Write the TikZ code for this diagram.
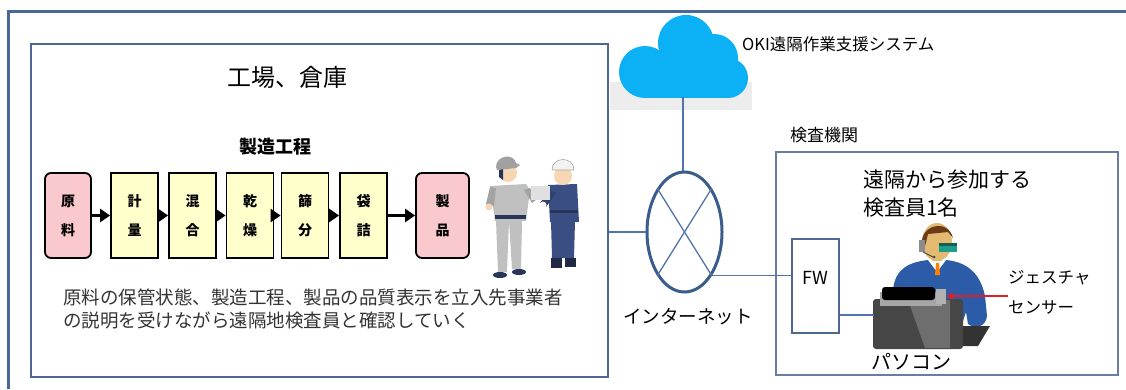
\documentclass[tikz,border=0pt]{standalone}
\usepackage{fontspec}
\setmainfont{Noto Sans CJK JP}
\usetikzlibrary{arrows.meta,shapes.geometric}

\definecolor{framecol}{RGB}{72,104,150}
\definecolor{boxcol}{RGB}{78,102,146}
\definecolor{linkcol}{RGB}{82,116,170}
\definecolor{netcol}{RGB}{58,92,138}
\definecolor{cloudcol}{RGB}{12,176,245}
\definecolor{stagefill}{RGB}{255,255,204}
\definecolor{endfill}{RGB}{249,201,206}
\definecolor{uniformgray}{RGB}{192,192,192}
\definecolor{capgray}{RGB}{160,160,160}
\definecolor{navy}{RGB}{58,78,132}
\definecolor{darknavy}{RGB}{40,52,88}
\definecolor{skin}{RGB}{247,214,180}
\definecolor{tan}{RGB}{228,186,112}
\definecolor{hair}{RGB}{106,58,27}
\definecolor{suitblue}{RGB}{44,92,168}
\definecolor{visor}{RGB}{30,158,138}
\definecolor{pcdark}{RGB}{70,70,70}
\definecolor{pclight}{RGB}{110,110,110}
\definecolor{sensorred}{RGB}{222,30,40}

\tikzset{
  frameline/.style={draw=framecol, line width=3pt},
  areabox/.style={draw=boxcol, line width=1.6pt, inner sep=0pt},
  stepbox/.style={draw=black, line width=1.8pt, minimum height=85pt, inner sep=0pt,
    align=center, font=\bfseries\fontsize{14}{29}\selectfont},
  stagebox/.style={stepbox, fill=stagefill, minimum width=47pt},
  endbox/.style={stepbox, fill=endfill, rounded corners=6pt},
  flow/.style={line width=2.6pt, -{Triangle[length=10pt,width=13pt]}},
  link/.style={draw=linkcol, line width=1.3pt},
  plain/.style={inner sep=0pt},
}

\begin{document}
\begin{tikzpicture}[x=1pt,y=-1pt]
\useasboundingbox (0,0) rectangle (1126,389);

% outer frame
\draw[frameline] (8,389) -- (8,11) -- (1126,11);

% faint band behind the cloud
\fill[black!7] (610,82) rectangle (752,110);

% factory / warehouse area
\node[areabox, minimum width=577pt, minimum height=333pt] (factory) at (319.5,210.5) {};
\node[plain, font=\fontsize{24}{28}\selectfont] (sitetitle) at (287,77) {工場、倉庫};
\node[plain, font=\bfseries\fontsize{18}{22}\selectfont] (flowtitle) at (275,147) {製造工程};

% manufacturing process
\node[endbox, minimum width=46pt] (raw) at (68,215.5) {原\\料};
\node[stagebox] (weigh) at (134.5,215.5) {計\\量};
\node[stagebox] (mix) at (192.5,215.5) {混\\合};
\node[stagebox] (dry) at (250,215.5) {乾\\燥};
\node[stagebox] (sieve) at (305,215.5) {篩\\分};
\node[stagebox] (bag) at (363.5,215.5) {袋\\詰};
\node[endbox, minimum width=53pt] (product) at (442.5,215.5) {製\\品};
\draw[flow] (raw) -- (weigh);
\draw[flow] (weigh) -- (mix);
\draw[flow] (mix) -- (dry);
\draw[flow] (dry) -- (sieve);
\draw[flow] (sieve) -- (bag);
\draw[flow] (bag) -- (product);

\node[plain, anchor=west, align=left, font=\fontsize{18.5}{23}\selectfont, text=black!80] (desc) at (63,308.5)
  {原料の保管状態、製造工程、製品の品質表示を立入先事業者\\の説明を受けながら遠隔地検査員と確認していく};

% two workers talking
\begin{scope}
  % left worker (grey uniform)
  \fill[uniformgray] (496,221) -- (509,221) -- (507,272) -- (498,272) -- cycle;
  \fill[uniformgray] (509,221) -- (522,221) -- (521,269) -- (512,269) -- cycle;
  \fill[darknavy] (500,275) ellipse[x radius=7, y radius=3];
  \fill[darknavy] (519,272) ellipse[x radius=7, y radius=3];
  \fill[uniformgray] (490,186) -- (526,184) -- (530,190) -- (526,221) -- (495,221) -- (492,200) -- cycle;
  \fill[darknavy] (495,215) rectangle (526,219);
  \fill[uniformgray!85!black] (490,187) -- (496,188) -- (494,206) -- (486,204) -- cycle;
  \fill[skin] (489,207) circle[radius=3.5];
  \fill[uniformgray!85!black] (524,190) -- (530,188) -- (537,199) -- (532,203) -- cycle;
  \fill[skin] (508,173) circle[radius=9];
  \fill[darknavy] (499,170) -- (503,168) -- (503,180) -- (499,177) -- cycle;
  \fill[capgray] (496,167) .. controls (496,155) and (514,153) .. (516,163) -- (520,165) -- (516,168) -- (497,170) -- cycle;
  % right worker (navy uniform, white helmet)
  \fill[navy] (551,221) -- (575,221) -- (574,258) -- (552,258) -- cycle;
  \fill[darknavy!80!black] (551,258) rectangle (562,268);
  \fill[darknavy!80!black] (565,258) rectangle (576,267);
  \fill[navy] (548,185) -- (577,184) -- (579,222) -- (550,222) -- cycle;
  \fill[darknavy] (550,210) rectangle (578,213);
  \fill[navy!85!black] (550,190) -- (556,193) -- (546,207) -- (540,203) -- cycle;
  \fill[black!12] (531,186) rectangle (550,200);
  \fill[white] (543,205) circle[radius=3.5];
  \fill[skin] (563,176) circle[radius=9];
  \fill[black!5] (552,170) .. controls (552,156) and (574,156) .. (574,170) -- cycle;
  \draw[black!35, line width=0.6pt] (552,170) .. controls (552,156) and (574,156) .. (574,170) -- cycle;
\end{scope}

% cloud service
\fill[cloudcol] (645,72) circle[radius=26];
\fill[cloudcol] (686,43) circle[radius=28];
\fill[cloudcol] (714,58) circle[radius=24];
\fill[cloudcol] (728,78) circle[radius=20];
\fill[cloudcol] (645,60) rectangle (728,98);
\coordinate (cloudfoot) at (683,97);
\node[plain, anchor=west, font=\fontsize{16.5}{20}\selectfont] (service) at (742,44) {OKI遠隔作業支援システム};

% internet
\node[draw=netcol, line width=3pt, ellipse, minimum width=75pt, minimum height=120pt, inner sep=0pt] (net) at (684.5,232) {};
\draw[link] (net.58) -- (net.238);
\draw[link] (net.122) -- (net.302);
\node[plain, font=\fontsize{18.5}{22}\selectfont] (netlabel) at (688,317) {インターネット};
\draw[link] (cloudfoot) -- (cloudfoot |- net.north);
\draw[link] (factory.east |- net.west) -- (net.west);

% inspection body
\node[plain, font=\fontsize{17}{20}\selectfont] (labname) at (824,135) {検査機関};
\node[areabox, draw=boxcol!85, minimum width=342pt, minimum height=223pt] (lab) at (947,263.5) {};
\node[plain, anchor=west, align=left, font=\fontsize{21}{28}\selectfont] (inspector) at (863,194) {遠隔から参加する\\検査員1名};

\node[draw=boxcol, line width=1.2pt, minimum width=47pt, minimum height=94pt, inner sep=0pt] (fw) at (815.5,286) {};
\node[plain, font=\fontsize{18}{22}\selectfont] (fwlabel) at (815.5,278) {FW};
\draw[link] (net.302) -- (net.302 -| fw.west);

% remote inspector at a PC
\begin{scope}
  \fill[suitblue] (893,330) -- (893,290) .. controls (895,268) and (910,262) .. (928,260)
    -- (946,260) .. controls (966,262) and (980,272) .. (985,296)
    -- (987,316) .. controls (986,326) and (976,330) .. (968,324) -- (966,312) -- (960,330) -- cycle;
  \fill[white] (928,260) -- (946,260) -- (937,272) -- cycle;
  \fill[orange] (936,263) -- (939,263) -- (940,275) -- (935,275) -- cycle;
  \fill[tan] (932,252) rectangle (942,261);
  \fill[tan] (937,242) ellipse[x radius=15, y radius=19];
  \fill[hair] (922,244) .. controls (920,225) and (948,218) .. (953,238) -- (948,232) -- (928,234) -- (925,246) -- cycle;
  \fill[black!45] (919,240) rectangle (925,252);
  \fill[visor] (939,243) rectangle (957,252);
  \fill[visor!60!black] (939,243) rectangle (957,246);
  \draw[black!70, line width=0.9pt] (923,252) -- (933,257);
  \fill[black!70] (934,257) circle[radius=1.5];
  \fill[black!80] (958,326) -- (990,326) -- (978,346) -- (962,346) -- cycle;
\end{scope}
\node[fill=pcdark, rounded corners=3pt, minimum width=90pt, minimum height=50pt, inner sep=0pt] (pc) at (918,324) {};
\fill[pclight] (908,300) -- (950,300) -- (950,348) -- (925,348) -- cycle;
\fill[black!35] (880,292) rectangle (942,306);
\fill[black, rounded corners=3pt] (882,287) rectangle (935,300);
\node[fill=black!30, minimum width=10pt, minimum height=15pt, inner sep=0pt] (sensor) at (941,296) {};
\coordinate (pcport) at (874,315);
\draw[link] (fw.east |- pcport) -- (pcport);

\node[plain, anchor=west, align=left, font=\fontsize{16.5}{30}\selectfont] (sensorlabel) at (1008,292) {ジェスチャ\\センサー};
\draw[sensorred, line width=1.2pt, -{Triangle[length=7pt,width=7pt]}] (sensorlabel.west |- sensor.east) -- (sensor.east);

\node[plain, font=\fontsize{20}{24}\selectfont] (pclabel) at (911,362) {パソコン};
\end{tikzpicture}
\end{document}
